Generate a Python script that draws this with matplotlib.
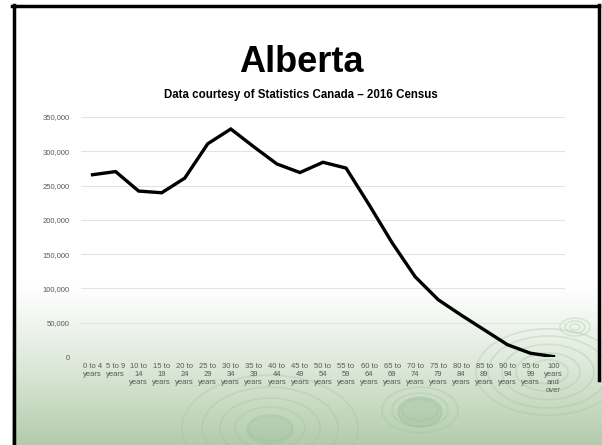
import numpy as np
import matplotlib.pyplot as plt
from matplotlib.lines import Line2D
from matplotlib.patches import Ellipse
from matplotlib.ticker import FuncFormatter

plt.rcParams['font.family'] = ['Liberation Sans Narrow', 'Liberation Sans', 'DejaVu Sans']

# === data ===
age_groups = ['0 to 4\nyears', '5 to 9\nyears', '10 to\n14\nyears', '15 to\n19\nyears',
              '20 to\n24\nyears', '25 to\n29\nyears', '30 to\n34\nyears', '35 to\n39\nyears',
              '40 to\n44\nyears', '45 to\n49\nyears', '50 to\n54\nyears', '55 to\n59\nyears',
              '60 to\n64\nyears', '65 to\n69\nyears', '70 to\n74\nyears', '75 to\n79\nyears',
              '80 to\n84\nyears', '85 to\n89\nyears', '90 to\n94\nyears', '95 to\n99\nyears',
              '100\nyears\nand\nover']
population = [265800, 270400, 242000, 239500, 260800, 311000, 332500, 306500,
              281500, 269000, 284000, 275500, 222000, 166500, 117000, 83500,
              61000, 39500, 18000, 5500, 600]
y_ticks = [0, 50000, 100000, 150000, 200000, 250000, 300000, 350000]

fig = plt.figure(figsize=(6.02, 4.45), dpi=100)

# === background: white to green gradient ===
bg = fig.add_axes([0, 0, 1, 1], zorder=-10)
bg.set_xlim(0, 602)
bg.set_ylim(445, 0)
bg.axis('off')
rows = np.linspace(0, 1, 445)
t = np.clip((rows * 445 - 280) / 165, 0, 1) ** 1.2
top = np.array([1.0, 1.0, 1.0])
bot = np.array([0.70, 0.80, 0.67])
grad = top[None, :] * (1 - t[:, None]) + bot[None, :] * t[:, None]
img = np.repeat(grad[:, None, :], 602, axis=1)
bg.imshow(img, extent=[12, 602, 445, 5], aspect='auto', interpolation='bilinear')

# ripple decorations
ripples = [(270, 428, [22, 35, 50, 68, 88]), (420, 410, [18, 28, 38]),
           (548, 372, [20, 32, 46, 60, 72]), (575, 327, [5, 10, 15])]
for cx, cy, radii in ripples:
    for r in radii:
        bg.add_patch(Ellipse((cx, cy), 2 * r, 1.2 * r, fill=False,
                             edgecolor=(0.60, 0.76, 0.60), lw=1.2, alpha=0.3))
bg.add_patch(Ellipse((420, 412), 44, 30, color=(0.58, 0.72, 0.58), alpha=0.3))
bg.add_patch(Ellipse((270, 430), 46, 28, color=(0.62, 0.75, 0.62), alpha=0.25))

# slide frame
bg.add_line(Line2D([13.5, 13.5], [5, 445], color='black', lw=2.5))
bg.add_line(Line2D([12, 599], [6, 6], color='black', lw=2.5))
bg.add_line(Line2D([598.5, 598.5], [5, 380], color='black', lw=2.5))

# === chart ===
ax = fig.add_axes([81 / 602, 88 / 445, 484 / 602, 240 / 445])
ax.patch.set_alpha(0)
x = np.arange(len(age_groups))
ax.plot(x, population, color='black', lw=2.4, solid_joinstyle='miter', zorder=3)
ax.set_xlim(-0.5, len(age_groups) - 0.5)
ax.set_ylim(0, 350000)
ax.set_yticks(y_ticks)
ax.yaxis.set_major_formatter(FuncFormatter(lambda v, p: f'{int(v):,}'))
ax.set_xticks(x)
ax.set_xticklabels(age_groups, fontsize=5.5, color='#595959', linespacing=1.2)
ax.tick_params(axis='y', labelsize=5.5, labelcolor='#595959', length=0, pad=8)
ax.tick_params(axis='x', length=0, pad=4)
ax.grid(axis='y', color='#e3e3e3', lw=0.8)
for s in ax.spines.values():
    s.set_visible(False)
ax.set_axisbelow(True)

fig.text(0.5, 1 - 62 / 445, 'Alberta', ha='center', va='center',
         fontsize=26, fontweight='bold')
fig.text(0.5, 1 - 95 / 445, 'Data courtesy of Statistics Canada \u2013 2016 Census',
         ha='center', va='center', fontsize=8.3, fontweight='bold')

fig.savefig('out.png', dpi=100)
